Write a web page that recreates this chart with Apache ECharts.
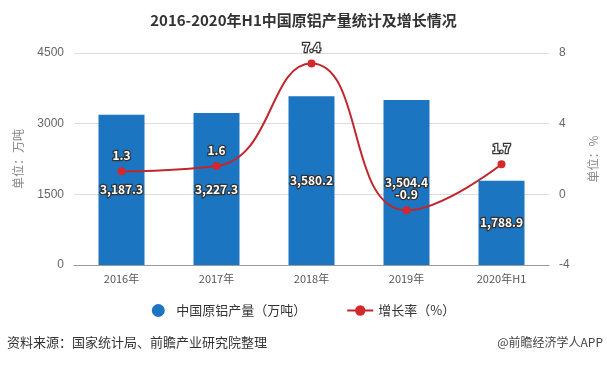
<!DOCTYPE html>
<html><head><meta charset="utf-8">
<script src="https://cdn.jsdelivr.net/npm/echarts@6/dist/echarts.min.js"></script>
<style>html,body{margin:0;padding:0;background:#fff}#c{width:607px;height:366px}</style>
</head><body><div id="c"></div>
<script>
var categories = ['2016年','2017年','2018年','2019年','2020年H1'];
var production = [3187.3, 3227.3, 3580.2, 3504.4, 1788.9];
var growth = [1.3, 1.6, 7.4, -0.9, 1.7];
var leftTicks = {min:0, max:4500, interval:1500};
var rightTicks = {min:-4, max:8, interval:4};

var font = '"Microsoft YaHei","Noto Sans CJK SC",sans-serif';
var chart = echarts.init(document.getElementById('c'));
var lblStyle = {color:'#fff', textBorderColor:'#333', textBorderWidth:2.5, fontSize:12, fontWeight:'bold', fontFamily:font};
chart.setOption({
  animation:false,
  title:{text:'2016-2020年H1中国原铝产量统计及增长情况', left:'center', top:8,
    textStyle:{fontSize:15, fontWeight:'bold', color:'#333', fontFamily:font}},
  grid:{left:74, right:57, top:53, bottom:101},
  legend:{bottom:44, left:'center', itemGap:40, itemWidth:26, itemHeight:13,
    textStyle:{fontSize:13, color:'#333', fontFamily:font},
    data:[{name:'中国原铝产量（万吨）', icon:'circle'}, {name:'增长率（%）'}]},
  xAxis:{type:'category', data:categories,
    axisLine:{lineStyle:{color:'#999'}}, axisTick:{show:false},
    axisLabel:{color:'#555', fontSize:11, margin:8, fontFamily:font}},
  yAxis:[
    {type:'value', min:leftTicks.min, max:leftTicks.max, interval:leftTicks.interval,
     name:'单位：万吨', nameLocation:'middle', nameGap:50,
     nameTextStyle:{color:'#888', fontSize:12, fontFamily:font},
     axisLine:{show:false}, axisTick:{show:false},
     axisLabel:{color:'#666', fontSize:12, margin:10, formatter:function(v){return String(v);}},
     splitLine:{lineStyle:{color:'#ddd'}}},
    {type:'value', min:rightTicks.min, max:rightTicks.max, interval:rightTicks.interval,
     name:'单位：%', nameLocation:'middle', nameGap:38,
     nameTextStyle:{color:'#888', fontSize:12, fontFamily:font},
     axisLine:{show:false}, axisTick:{show:false},
     axisLabel:{color:'#666', fontSize:12, margin:10},
     splitLine:{show:false}}
  ],
  series:[
    {name:'中国原铝产量（万吨）', type:'bar', data:production, barWidth:46,
     itemStyle:{color:'#1b75c0'},
     label:Object.assign({show:true, position:'inside',
       formatter:function(p){return p.value.toLocaleString('en-US',{minimumFractionDigits:1});}}, lblStyle)},
    {name:'增长率（%）', type:'line', yAxisIndex:1, data:growth, smooth:true,
     symbol:'circle', symbolSize:8,
     itemStyle:{color:'#d4282f'}, lineStyle:{color:'#c0272d', width:2},
     label:Object.assign({show:true, position:'top', distance:6}, lblStyle)}
  ],
  graphic:[
    {type:'text', left:7, top:336, style:{text:'资料来源：国家统计局、前瞻产业研究院整理', fill:'#333', fontSize:13, fontFamily:font}},
    {type:'text', right:4, top:336, style:{text:'@前瞻经济学人APP', fill:'#444', fontSize:12, fontFamily:font}}
  ]
});
</script></body></html>
